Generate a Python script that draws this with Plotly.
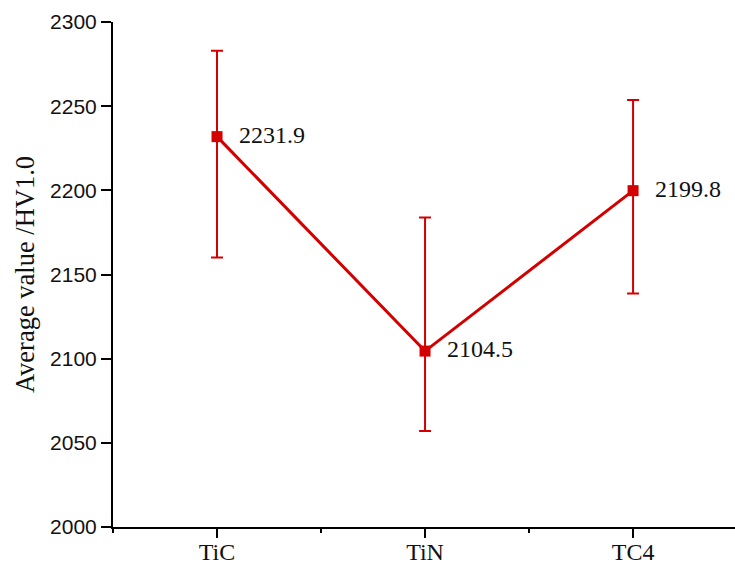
import plotly.graph_objects as go

categories = ["TiC", "TiN", "TC4"]
means = [2231.9, 2104.5, 2199.8]
err_upper = [2282.9, 2183.9, 2253.6]
err_lower = [2160.1, 2057.0, 2138.7]
labels = ["2231.9", "2104.5", "2199.8"]
y_ticks = [2000, 2050, 2100, 2150, 2200, 2250, 2300]

xpos = list(range(len(categories)))
red = "#d40000"
serif = "Liberation Serif, Times New Roman, serif"
sans = "Liberation Sans, Arial, sans-serif"

fig = go.Figure()
fig.add_trace(go.Scatter(
    x=xpos, y=means, mode="lines+markers",
    line=dict(color=red, width=3),
    marker=dict(symbol="square", size=11, color=red),
    error_y=dict(
        type="data", symmetric=False,
        array=[u - m for u, m in zip(err_upper, means)],
        arrayminus=[m - l for m, l in zip(means, err_lower)],
        color=red, thickness=2, width=6,
    ),
    showlegend=False,
))

for x, y, t in zip(xpos, means, labels):
    fig.add_annotation(x=x, y=y, text=t, showarrow=False, xanchor="left",
                       yanchor="middle", xshift=20, yshift=2,
                       font=dict(family=serif, size=24, color="#111"))

fig.update_layout(
    width=735, height=564,
    margin=dict(l=113, r=0, t=22, b=37),
    paper_bgcolor="white", plot_bgcolor="white",
    xaxis=dict(
        range=[-0.5, 2.49], tickvals=xpos, ticktext=categories,
        automargin=False,
        showline=True, linecolor="black", linewidth=2,
        ticks="outside", ticklen=9, tickwidth=2, tickcolor="black",
        showgrid=False, zeroline=False,
        ticklabelstandoff=-7,
        tickfont=dict(family=serif, size=24, color="#111"),
        minor=dict(tickvals=[-0.5, 0.5, 1.5, 2.5], ticks="outside",
                   ticklen=4, tickwidth=2, tickcolor="black"),
    ),
    yaxis=dict(
        range=[2000, 2300], tickvals=y_ticks,
        automargin=False,
        showline=True, linecolor="black", linewidth=2,
        ticks="outside", ticklen=10, tickwidth=2, tickcolor="black",
        showgrid=False, zeroline=False,
        tickfont=dict(family=sans, size=21, color="#111"),
        title=dict(text="Average value /HV1.0", standoff=8,
                   font=dict(family=serif, size=26.5, color="#111")),
    ),
)

fig.write_html("out.html", config={"displayModeBar": False},
               post_script="document.body.style.margin='0';")
